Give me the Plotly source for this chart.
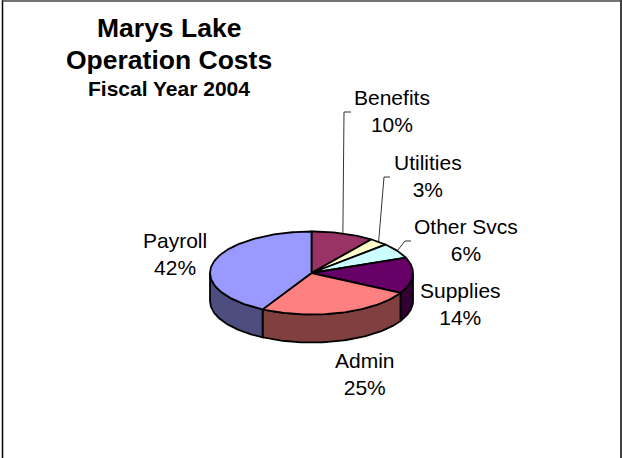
import numpy as np
import plotly.graph_objects as go

categories = ["Benefits", "Utilities", "Other Svcs", "Supplies", "Admin", "Payroll"]
values = [10, 3, 6, 14, 25, 42]
top_colors = ["#993366", "#FFFFCC", "#CCFFFF", "#660066", "#FF8080", "#9999FF"]
side_colors = ["#4D1A33", "#808066", "#668080", "#330033", "#804040", "#4D4D80"]
title_lines = ["Marys Lake", "Operation Costs"]
subtitle = "Fiscal Year 2004"

W, H = 622, 458
CX, CY, RX, RY, DEPTH = 311.5, 273.0, 101.5, 41.5, 28.0
LABEL_XY = {"Benefits": (392, 111), "Utilities": (428, 176), "Other Svcs": (466, 240),
            "Supplies": (460, 304), "Admin": (365, 374), "Payroll": (175, 254)}
ELBOWS = {"Benefits": [(344, 112), (351, 112)], "Utilities": [(384, 177), (390, 177)],
          "Other Svcs": [(405, 241), (411, 241)]}
FONT = "Liberation Sans, Arial, sans-serif"


def pt(deg, dy=0.0):
    a = np.radians(deg)
    return CX + RX * np.sin(a), CY - RY * np.cos(a) + dy


fig = go.Figure()
line = dict(color="black", width=1.8)
cum = np.cumsum([0] + values) / sum(values) * 360

for i in range(len(values)):
    a0, a1 = max(cum[i], 90), min(cum[i + 1], 270)
    if a1 <= a0:
        continue
    t = np.linspace(a0, a1, 60)
    xt, yt = pt(t)
    xb, yb = pt(t[::-1], DEPTH)
    fig.add_trace(go.Scatter(x=np.r_[xt, xb, xt[0]], y=np.r_[yt, yb, yt[0]], mode="lines",
                             fill="toself", fillcolor=side_colors[i], line=line, hoverinfo="skip"))

for i in range(len(values)):
    t = np.linspace(cum[i], cum[i + 1], max(int(values[i] * 3), 6))
    xt, yt = pt(t)
    fig.add_trace(go.Scatter(x=np.r_[CX, xt, CX], y=np.r_[CY, yt, CY], mode="lines",
                             fill="toself", fillcolor=top_colors[i], line=line,
                             name=categories[i], hoverinfo="name"))

for cat, elbow in ELBOWS.items():
    i = categories.index(cat)
    x0, y0 = pt((cum[i] + cum[i + 1]) / 2)
    xs = [x0] + [p[0] for p in elbow]
    ys = [y0] + [p[1] for p in elbow]
    fig.add_trace(go.Scatter(x=xs, y=ys, mode="lines", line=dict(color="black", width=0.8),
                             hoverinfo="skip"))

for cat, val in zip(categories, values):
    x, y = LABEL_XY[cat]
    fig.add_annotation(x=x, y=y, text=f"{cat}<br>{val}%", showarrow=False,
                       font=dict(family=FONT, size=21, color="black"), align="center")

for txt, y, size in [(title_lines[0], 28, 26.5), (title_lines[1], 60, 26.5), (subtitle, 88, 21)]:
    fig.add_annotation(x=169, y=y, text=f"<b>{txt}</b>", showarrow=False,
                       font=dict(family=FONT, size=size, color="black"))

fig.update_layout(
    width=W, height=H, margin=dict(l=0, r=0, t=0, b=0), showlegend=False,
    paper_bgcolor="white", plot_bgcolor="white",
    xaxis=dict(range=[0, W], visible=False, fixedrange=True),
    yaxis=dict(range=[H, 0], visible=False, fixedrange=True),
    shapes=[dict(type="line", x0=2.5, x1=2.5, y0=0, y1=H, line=dict(color="black", width=1.5)),
            dict(type="line", x0=621, x1=621, y0=0, y1=H, line=dict(color="black", width=1.5)),
            dict(type="line", x0=2, x1=W, y0=1, y1=1, line=dict(color="#444444", width=1.5))],
)
fig.write_html("out.html", config={"displayModeBar": False},
               post_script="document.body.style.margin='0';document.body.style.overflow='hidden';")
